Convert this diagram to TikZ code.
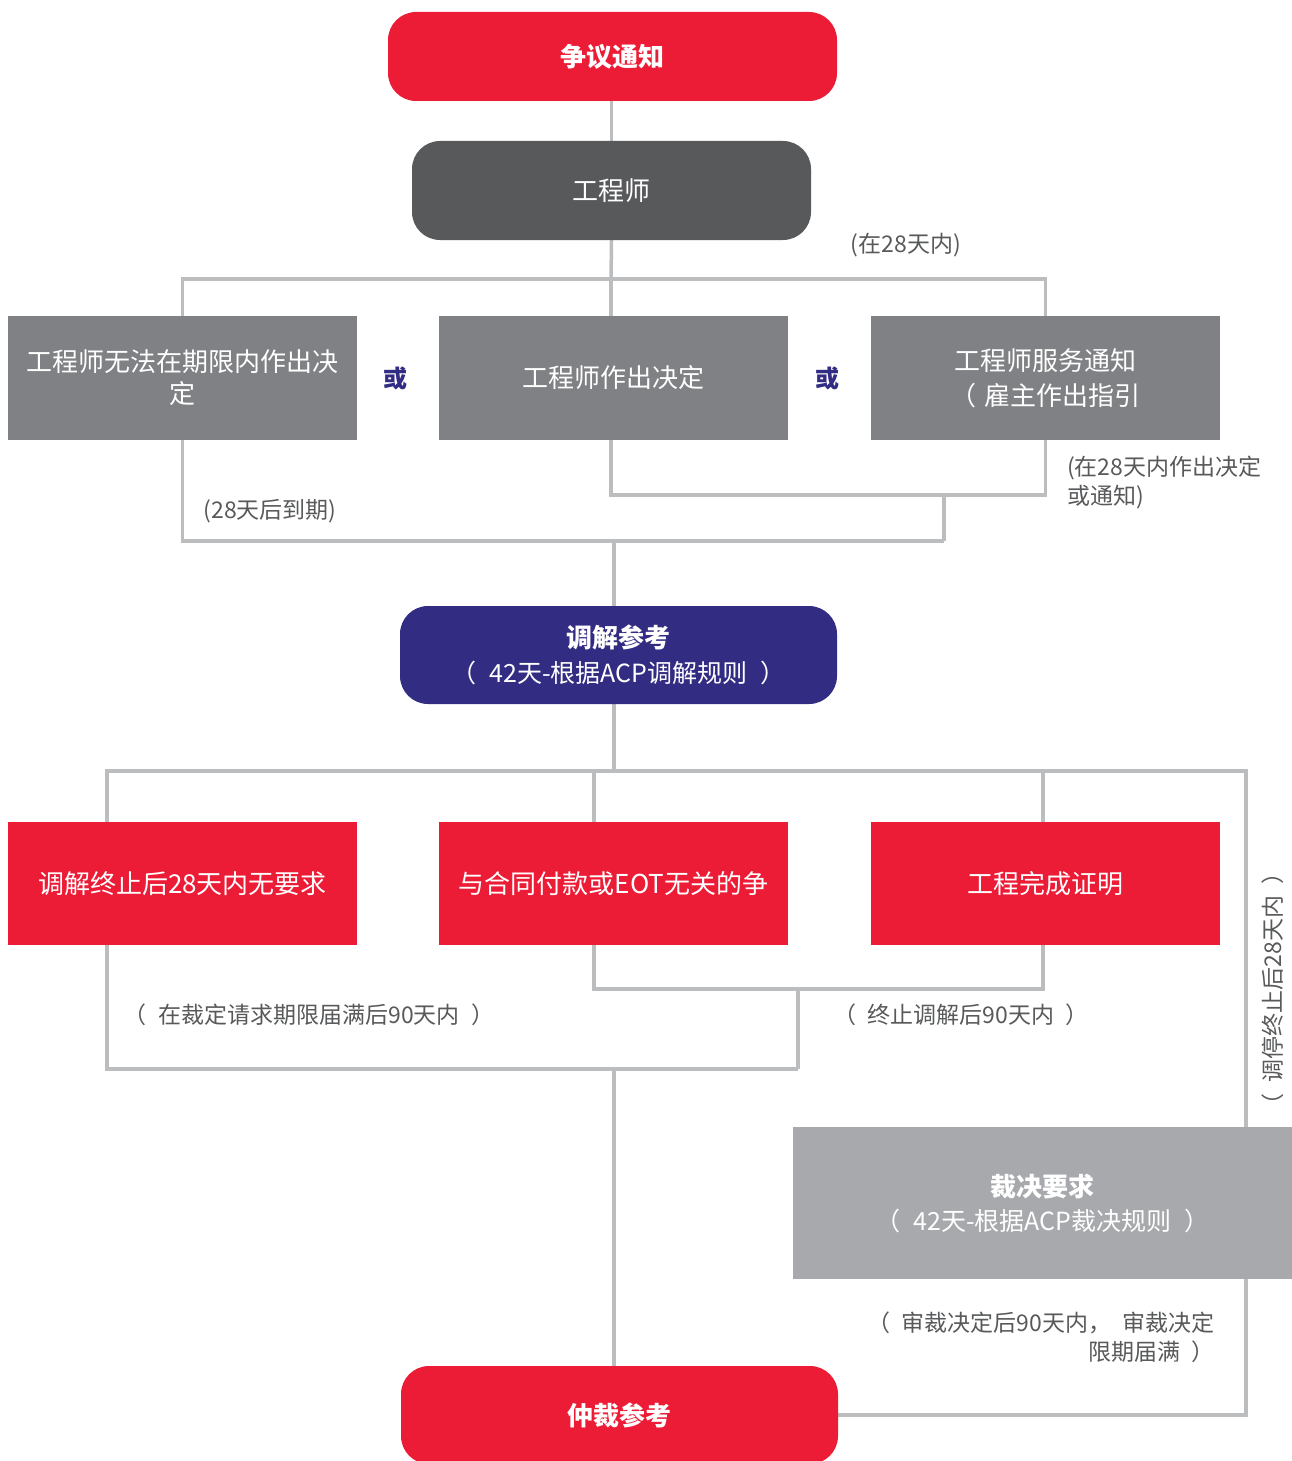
\documentclass[tikz,border=0pt]{standalone}
\usepackage{fontspec}
\setmainfont{Noto Sans CJK SC}
\usetikzlibrary{backgrounds}
\definecolor{cred}{HTML}{ED1C36}
\definecolor{cdark}{HTML}{58595B}
\definecolor{cgray}{HTML}{808184}
\definecolor{cnavy}{HTML}{332C83}
\definecolor{clgray}{HTML}{A7A9AC}
\definecolor{cline}{HTML}{BBBDBF}
\definecolor{ctext}{HTML}{58595B}
\newcommand{\psp}{\hspace{0.5em}}
\tikzset{
  rbox/.style={rounded corners=28pt, text=white, inner sep=0pt, align=center},
  sbox/.style={text=white, font=\fontsize{26}{32}\selectfont, inner sep=0pt, align=center, minimum width=349pt, minimum height=124pt},
  conn/.style={draw=cline, line width=3.5pt, line join=miter},
  lbl/.style={text=ctext, font=\fontsize{23}{29}\selectfont, inner sep=0pt},
  orlbl/.style={text=cnavy, font=\bfseries\fontsize{24}{28}\selectfont, inner sep=0pt}
}
\begin{document}
\begin{tikzpicture}[x=1pt,y=-1pt]
\useasboundingbox (0,0) rectangle (1292,1461);
\clip (0,0) rectangle (1292,1461);
% nodes
\node[rbox, fill=cred, minimum width=449pt, minimum height=89pt, font=\bfseries\fontsize{26}{30}\selectfont] (n1) at (612.5,56.5) {争议通知};
\node[rbox, fill=cdark, minimum width=399pt, minimum height=99pt, font=\fontsize{26}{30}\selectfont] (n2) at (611.5,190.5) {工程师};
\node[sbox, fill=cgray] (b1) at (182.5,378) {工程师无法在期限内作出决\\定};
\node[sbox, fill=cgray] (b2) at (613.5,378) {工程师作出决定};
\node[sbox, fill=cgray, font=\fontsize{26}{35}\selectfont] (b3) at (1045.5,378) {工程师服务通知\\（\hspace{0.3em}雇主作出指引};
\node[orlbl] (or1) at (395,378) {或};
\node[orlbl] (or2) at (827,378) {或};
\node[rbox, fill=cnavy, minimum width=437pt, minimum height=98pt, font=\fontsize{25}{35}\selectfont] (med) at (618.5,655) {{\bfseries\fontsize{26}{35}\selectfont 调解参考}\\（\psp 42天-根据ACP调解规则\psp）};
\node[sbox, fill=cred, minimum height=123pt] (b4) at (182.5,883.5) {调解终止后28天内无要求};
\node[sbox, fill=cred, minimum height=123pt] (b5) at (613.5,883.5) {与合同付款或EOT无关的争};
\node[sbox, fill=cred, minimum height=123pt] (b6) at (1045.5,883.5) {工程完成证明};
\node[fill=clgray, text=white, inner sep=0pt, align=center, minimum width=499pt, minimum height=152pt, font=\fontsize{25}{34}\selectfont] (dab) at (1042.5,1203) {{\bfseries\fontsize{26}{34}\selectfont 裁决要求}\\（\psp 42天-根据ACP裁决规则\psp）};
\node[rbox, fill=cred, minimum width=437pt, minimum height=98pt, font=\bfseries\fontsize{26}{30}\selectfont] (arb) at (619.5,1415) {仲裁参考};
% labels
\node[lbl] (t1) at (906,245) {(在28天内)};
\node[lbl] (t2) at (270,511) {(28天后到期)};
\node[lbl, align=left, anchor=west] (t3) at (1067,483) {(在28天内作出决定\\或通知)};
\node[lbl] (t4) at (309,1015) {（\psp 在裁定请求期限届满后90天内\psp）};
\node[lbl] (t5) at (961,1015) {（\psp 终止调解后90天内\psp）};
\node[lbl, rotate=90] (t6) at (1273,989) {（\psp 调停终止后28天内\psp）};
\node[lbl, align=right, anchor=east] (t7) at (1215,1337) {（\psp 审裁决定后90天内，\psp 审裁决定\\限期届满\psp）};
% connectors
\begin{scope}[on background layer]
\coordinate (j1) at (611,279);
\draw[conn] (n1.south -| n2.north) -- (n2.north);
\draw[conn] (n2.south) -- (j1);
\draw[conn] (b1.north) |- (j1) -| (b3.north);
\draw[conn] (j1) -- (j1 |- b2.north);
\coordinate (k1) at (611,495);
\coordinate (k2) at (944,495);
\coordinate (k3) at (944,541);
\coordinate (k4) at (614,541);
\draw[conn] (b2.south -| k1) -- (k1) -| (b3.south);
\draw[conn] (k2) -- (k3);
\draw[conn] (b1.south) |- (k3);
\draw[conn] (k4) -- (med.north -| k4);
\coordinate (m1) at (614,771);
\coordinate (m2) at (107,771);
\coordinate (m3) at (1246,771);
\coordinate (m4) at (594,771);
\coordinate (m5) at (1043,771);
\draw[conn] (med.south -| m1) -- (m1);
\draw[conn] (b4.north -| m2) -- (m2) -- (m3) -- (dab.north -| m3);
\draw[conn] (m4) -- (b5.north -| m4);
\draw[conn] (m5) -- (b6.north -| m5);
\coordinate (p1) at (594,989);
\coordinate (p2) at (1043,989);
\coordinate (p3) at (798,989);
\coordinate (p4) at (798,1069);
\coordinate (p5) at (107,1069);
\coordinate (p6) at (614,1069);
\draw[conn] (b5.south -| p1) -- (p1) -- (p2) -- (b6.south -| p2);
\draw[conn] (p3) -- (p4);
\draw[conn] (b4.south -| p5) -- (p5) -- (p4);
\draw[conn] (p6) -- (arb.north -| p6);
\draw[conn] (dab.south -| m3) -- (m3 |- arb.east) -- (arb.east);
\end{scope}
\end{tikzpicture}
\end{document}
